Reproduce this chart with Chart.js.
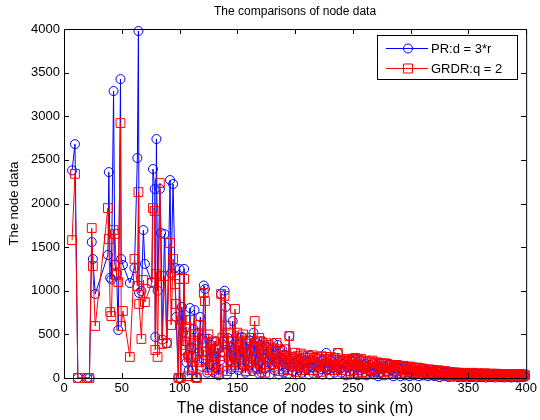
<!DOCTYPE html>
<html>
<head>
<meta charset="utf-8">
<script src="https://cdn.jsdelivr.net/npm/chart.js@4.4.1/dist/chart.umd.min.js"></script>
<style>
  html, body { margin: 0; padding: 0; background: #fff; }
  #wrap { width: 540px; height: 420px; }
</style>
</head>
<body>
<div id="wrap"><canvas id="nodeChart" width="540" height="420"></canvas></div>
<script>
// node distance to sink (m), shared by both series
const distance = [
  7, 9.5, 12, 20, 22, 24, 25, 27, 38, 38.8, 40, 41, 42.9, 44, 45.5, 47, 48.9, 49.5, 51, 57,
  61, 63.5, 64.4, 65, 67, 68.7, 70, 76, 77, 78.5, 79, 80, 81, 83, 84, 85, 87, 89, 91.8, 92.7,
  94.4, 96, 97, 99,
  100, 101, 102, 103, 104, 105, 106, 107, 108, 109, 110, 111, 112, 113, 114, 115, 116, 117, 118, 119,
  120, 121, 122, 123, 124, 125, 126, 127, 128, 129, 130, 131, 132, 133, 134, 135, 136, 137, 138, 139,
  140, 141, 142, 143, 144, 145, 146, 147, 148, 149, 150, 151, 152, 153, 154, 155, 156, 157, 158, 159,
  160, 161, 162, 163, 164, 165, 166, 167, 168, 169, 170, 171, 172, 173, 174, 175, 176, 177, 178, 179,
  180, 181, 182, 183, 184, 185, 186, 187, 188, 189, 190, 191, 192, 193, 194, 195, 196, 197, 198, 199,
  200, 201, 202, 203, 204, 205, 206, 207, 208, 209, 210, 211, 212, 213, 214, 215, 216, 217, 218, 219,
  220, 221, 222, 223, 224, 225, 226, 227, 228, 229, 230, 231, 232, 233, 234, 235, 236, 237, 238, 239,
  240, 241, 242, 243, 244, 245, 246, 247, 248, 249, 250, 251, 252, 253, 254, 255, 256, 257, 258, 259,
  260, 261, 262, 263, 264, 265, 266, 267, 268, 269, 270, 271, 272, 273, 274, 275, 276, 277, 278, 279,
  280, 281, 282, 283, 284, 285, 286, 287, 288, 289, 290, 291, 292, 293, 294, 295, 296, 297, 298, 299,
  300, 301, 302, 303, 304, 305, 306, 307, 308, 309, 310, 311, 312, 313, 314, 315, 316, 317, 318, 319,
  320, 321, 322, 323, 324, 325, 326, 327, 328, 329, 330, 331, 332, 333, 334, 335, 336, 337, 338, 339,
  340, 341, 342, 343, 344, 345, 346, 347, 348, 349, 350, 351, 352, 353, 354, 355, 356, 357, 358, 359,
  360, 361, 362, 363, 364, 365, 366, 367, 368, 369, 370, 371, 372, 373, 374, 375, 376, 377, 378, 379,
  380, 381, 382, 383, 384, 385, 386, 387, 388, 389, 390, 391, 392, 393, 394, 395, 396, 397, 398, 399
];

// PR:d = 3*r
const prData = [
  2380, 2680, 0, 0, 0, 1558, 1364, 963, 1410, 2360, 1150, 1130, 3289, 1300, 1200, 550, 3426, 1364, 1295, 1089,
  1261, 2521, 3977, 974, 997, 1696, 1307, 1100, 2395, 2166, 470, 2739, 1000, 2166, 1662, 440, 1650, 400, 2269, 1200,
  2223, 1261, 699, 0,
  1249, 0, 814, 520, 1250, 420, 180, 260, 90, 802, 350, 90, 560, 779, 240, 0, 520, 300, 699, 130,
  450, 1060, 1020, 310, 60, 450, 160, 380, 240, 70, 250, 420, 120, 330, 30, 200, 963, 300, 420, 1000,
  814, 40, 458, 200, 350, 100, 653, 330, 120, 480, 260, 90, 380, 210, 470, 140, 350, 60, 420, 280,
  150, 430, 230, 80, 516, 310, 120, 400, 190, 50, 380, 60, 420, 230, 110, 360, 180, 300, 40, 330,
  150, 400, 90, 260, 180, 378, 40, 300, 150, 321, 60, 264, 120, 210, 50, 481, 130, 220, 80, 170,
  230, 40, 200, 150, 110, 229, 60, 160, 90, 170, 100, 190, 40, 264, 120, 210, 50, 190, 130, 220,
  60, 180, 100, 200, 40, 160, 120, 287, 100, 170, 40, 200, 110, 180, 60, 160, 90, 287, 110, 180,
  60, 160, 90, 170, 30, 200, 120, 150, 40, 190, 190, 50, 210, 120, 30, 180, 90, 200, 40, 150,
  100, 160, 30, 140, 80, 150, 60, 170, 40, 130, 70, 150, 20, 120, 60, 140, 100, 30, 130, 80,
  150, 40, 160, 90, 110, 20, 130, 70, 120, 50, 120, 20, 110, 60, 120, 30, 100, 70, 110, 20,
  90, 50, 100, 30, 80, 60, 90, 20, 80, 40, 100, 30, 90, 50, 80, 20, 70, 40, 90, 30,
  70, 20, 60, 40, 70, 10, 50, 30, 60, 20, 60, 30, 55, 10, 45, 30, 50, 15, 40, 25,
  45, 10, 40, 20, 35, 10, 40, 20, 30, 5, 40, 15, 35, 10, 45, 20, 30, 5, 35, 15,
  40, 10, 30, 20, 35, 5, 30, 15, 40, 10, 30, 15, 35, 5, 30, 20, 35, 10, 25, 15,
  30, 5, 35, 15, 25, 10, 30, 5, 25, 15, 30, 10, 25, 5, 30, 15, 25, 10, 30, 20
];

// GRDR:q = 2
const grdrData = [
  1580, 2340, 0, 0, 0, 1719, 1283, 596, 1948, 1593, 756, 710, 1696, 1650, 1180, 1100, 2922, 596, 768, 241,
  1364, 1054, 2131, 848, 447, 1123, 870, 1089, 1948, 1914, 321, 1192, 241, 2234, 1169, 390, 1169, 401, 1547, 607,
  1364, 1077, 848, 0,
  1135, 0, 665, 380, 1135, 320, 584, 20, 240, 665, 240, 130, 430, 500, 10, 0, 380, 180, 610, 200,
  300, 974, 882, 260, 120, 500, 90, 330, 410, 150, 420, 280, 60, 350, 100, 250, 963, 458, 300, 940,
  600, 80, 520, 300, 180, 420, 150, 360, 791, 180, 520, 350, 120, 460, 240, 500, 160, 420, 80, 390,
  300, 190, 460, 120, 350, 653, 240, 420, 100, 460, 420, 150, 360, 280, 60, 400, 220, 380, 120, 350,
  200, 300, 160, 330, 401, 220, 80, 310, 190, 260, 100, 330, 170, 250, 90, 481, 160, 240, 200, 130,
  290, 70, 250, 200, 140, 280, 90, 260, 120, 230, 200, 250, 90, 230, 170, 260, 90, 230, 160, 240,
  130, 220, 70, 250, 100, 210, 140, 240, 130, 220, 90, 240, 150, 210, 90, 230, 120, 287, 140, 210,
  90, 200, 120, 190, 60, 220, 150, 200, 80, 210, 220, 90, 230, 150, 60, 210, 120, 220, 70, 190,
  130, 200, 60, 180, 110, 190, 90, 200, 80, 170, 110, 180, 50, 160, 100, 170, 140, 70, 170, 110,
  160, 80, 150, 120, 140, 60, 150, 100, 150, 80, 140, 50, 130, 90, 140, 60, 120, 90, 130, 40,
  130, 70, 120, 60, 110, 80, 120, 50, 110, 70, 110, 70, 100, 50, 90, 70, 100, 40, 90, 60,
  90, 50, 80, 40, 90, 30, 70, 50, 80, 40, 80, 30, 70, 50, 70, 25, 60, 40, 65, 30,
  60, 40, 60, 20, 55, 40, 60, 25, 50, 35, 55, 20, 50, 30, 60, 20, 50, 30, 55, 25,
  50, 30, 45, 20, 55, 25, 50, 30, 45, 20, 50, 25, 45, 20, 50, 30, 45, 20, 40, 25,
  45, 20, 40, 25, 45, 15, 40, 25, 45, 20, 40, 25, 45, 20, 40, 30, 45, 15, 40, 30
];

const xTicks = [0, 50, 100, 150, 200, 250, 300, 350, 400];
const yTicks = [0, 500, 1000, 1500, 2000, 2500, 3000, 3500, 4000];
const seriesNames = ['PR:d = 3*r', 'GRDR:q = 2'];

const FONT = "'Liberation Sans', Arial, sans-serif";

// matlab style box, inward ticks, title and legend
const matlabFrame = {
  id: 'matlabFrame',
  afterDraw(chart) {
    const { ctx, chartArea: a, scales: { x, y } } = chart;
    ctx.save();
    ctx.strokeStyle = '#000';
    ctx.lineWidth = 1;
    ctx.beginPath();
    ctx.rect(a.left + 0.5, a.top + 0.5, a.right - a.left, a.bottom - a.top);
    xTicks.forEach(v => {
      const px = Math.round(x.getPixelForValue(v)) + 0.5;
      ctx.moveTo(px, a.bottom); ctx.lineTo(px, a.bottom - 5);
      ctx.moveTo(px, a.top); ctx.lineTo(px, a.top + 5);
    });
    yTicks.forEach(v => {
      const py = Math.round(y.getPixelForValue(v)) + 0.5;
      ctx.moveTo(a.left, py); ctx.lineTo(a.left + 5, py);
      ctx.moveTo(a.right, py); ctx.lineTo(a.right - 5, py);
    });
    ctx.stroke();

    // title
    ctx.fillStyle = '#000';
    ctx.font = '12px ' + FONT;
    ctx.textAlign = 'center';
    ctx.textBaseline = 'middle';
    ctx.fillText('The comparisons of node data', (a.left + a.right) / 2, 12);

    // legend
    const lx = 377.5, ly = 35.5, lw = 140, lh = 44;
    ctx.fillStyle = '#fff';
    ctx.fillRect(lx, ly, lw, lh);
    ctx.strokeStyle = '#000';
    ctx.strokeRect(lx, ly, lw, lh);
    const rows = [
      { y: 48, color: '#0000ff', shape: 'circle' },
      { y: 68, color: '#ff0000', shape: 'rect' }
    ];
    rows.forEach((r, i) => {
      ctx.strokeStyle = r.color;
      ctx.beginPath();
      ctx.moveTo(386, r.y + 0.5); ctx.lineTo(428, r.y + 0.5);
      ctx.stroke();
      ctx.beginPath();
      if (r.shape === 'circle') ctx.arc(408, r.y + 0.5, 4.5, 0, Math.PI * 2);
      else ctx.rect(403.5, r.y - 4, 9, 9);
      ctx.stroke();
      ctx.fillStyle = '#000';
      ctx.font = '13px ' + FONT;
      ctx.textAlign = 'left';
      ctx.fillText(seriesNames[i], 431, r.y + 1);
    });
    ctx.restore();
  }
};

const toPoints = vals => distance.map((d, i) => ({ x: d, y: vals[i] }));

new Chart(document.getElementById('nodeChart'), {
  type: 'line',
  data: {
    datasets: [{
      label: seriesNames[0],
      data: toPoints(prData),
      borderColor: '#0000ff',
      borderWidth: 1,
      pointStyle: 'circle',
      pointRadius: 4.5,
      pointBorderWidth: 1,
      pointBorderColor: '#0000ff',
      pointBackgroundColor: 'rgba(0,0,0,0)',
      tension: 0,
      clip: false,
      order: 2
    }, {
      label: seriesNames[1],
      data: toPoints(grdrData),
      borderColor: '#ff0000',
      borderWidth: 1,
      pointStyle: 'rect',
      pointRadius: 6.2,
      pointBorderWidth: 1,
      pointBorderColor: '#ff0000',
      pointBackgroundColor: 'rgba(0,0,0,0)',
      tension: 0,
      clip: false,
      order: 1
    }]
  },
  options: {
    responsive: false,
    animation: false,
    devicePixelRatio: 1,
    layout: { padding: { top: 29, right: 10, left: 0, bottom: 0 } },
    plugins: {
      legend: { display: false },
      title: { display: false },
      tooltip: { enabled: false }
    },
    scales: {
      x: {
        type: 'linear',
        min: 0,
        max: 400,
        afterBuildTicks: axis => { axis.ticks = xTicks.map(v => ({ value: v })); },
        afterFit: axis => { axis.height = 42; },
        grid: { display: false, drawTicks: false },
        border: { display: false },
        ticks: { color: '#000', padding: 3, maxRotation: 0, callback: v => String(v), font: { family: FONT, size: 13 } },
        title: {
          display: true,
          text: 'The distance of nodes to sink (m)',
          color: '#000',
          font: { family: FONT, size: 16 },
          padding: { top: 0, bottom: 2 }
        }
      },
      y: {
        type: 'linear',
        min: 0,
        max: 4000,
        afterBuildTicks: axis => { axis.ticks = yTicks.map(v => ({ value: v })); },
        afterFit: axis => { axis.width = 64; },
        grid: { display: false, drawTicks: false },
        border: { display: false },
        ticks: { color: '#000', padding: 4, callback: v => String(v), font: { family: FONT, size: 13 } },
        title: {
          display: true,
          text: 'The node data',
          color: '#000',
          font: { family: FONT, size: 13 },
          padding: { top: 7, bottom: 0 }
        }
      }
    }
  },
  plugins: [matlabFrame]
});
</script>
</body>
</html>
